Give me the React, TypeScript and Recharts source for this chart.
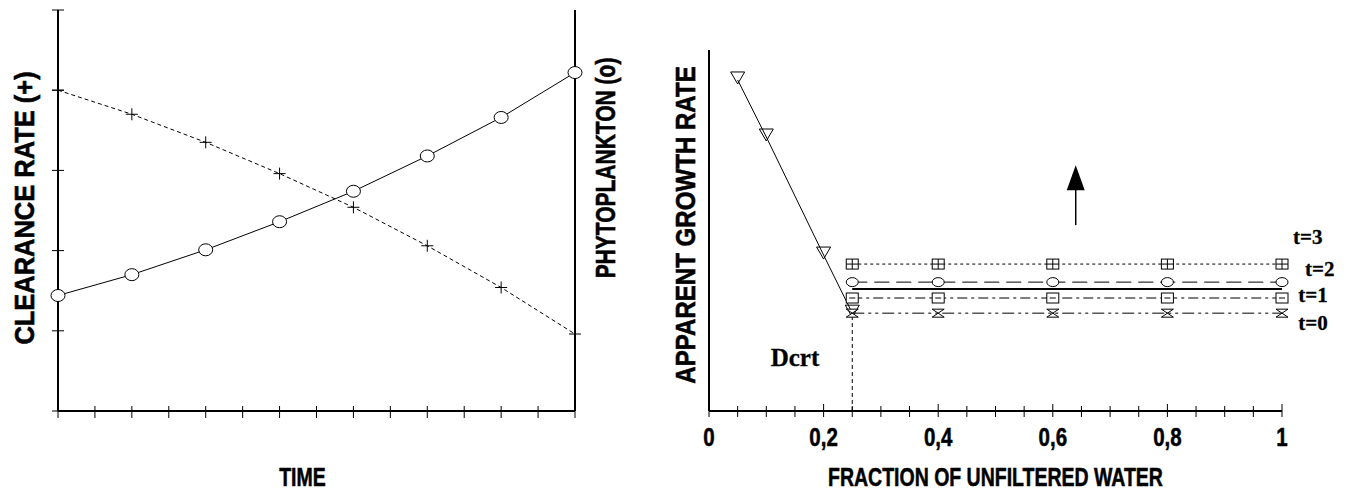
import React from "react";
import { LineChart, Line, XAxis, YAxis, ReferenceLine, ReferenceDot } from "recharts";

// left panel: clearance rate and phytoplankton over time
const timeSteps = [0, 2, 4, 6, 8, 10, 12, 14];
const clearanceRate = [4.0, 3.7, 3.35, 2.96, 2.54, 2.06, 1.54, 0.96];
const phytoplankton = [1.44, 1.7, 2.01, 2.36, 2.74, 3.18, 3.66, 4.22];
const timeTicks = [0, 1, 2, 3, 4, 5, 6, 7, 8, 9, 10, 11, 12, 13, 14];
const leftTicks = [0, 1, 2, 3, 4, 5];

// right panel: apparent growth rate vs fraction of unfiltered water
const fractionTicks = [
  0, 0.05, 0.1, 0.15, 0.2, 0.25, 0.3, 0.35, 0.4, 0.45, 0.5, 0.55, 0.6, 0.65, 0.7,
  0.75, 0.8, 0.85, 0.9, 0.95, 1,
];
const fractionLabels = [0, 0.2, 0.4, 0.6, 0.8, 1];
const dropFraction = [0.05, 0.1, 0.2, 0.25];
const dropRate = [9.17, 7.59, 4.32, 2.71];
const plateauFraction = [0.25, 0.4, 0.6, 0.8, 1];
const rateT3 = [4.07, 4.07, 4.07, 4.07, 4.07];
const rateT2 = [3.57, 3.57, 3.57, 3.57, 3.57];
const rateT1 = [3.13, 3.13, 3.13, 3.13, 3.13];
const rateT0 = [2.71, 2.71, 2.71, 2.71, 2.71];
const steadyFraction = [0.25, 1];
const steadyRate = [3.38, 3.38];
const dcrt = 0.25;
const arrowFraction = 0.64;
const arrowRate = [5.15, 6.81];
const stepNames = ["t=3", "t=2", "t=1", "t=0"];

const ink = "#000";
const sans = "'Liberation Sans', Arial, sans-serif";
const serif = "'Liberation Serif', 'Times New Roman', serif";

const timeData = timeSteps.map((t, i) => ({
  t,
  clearance: clearanceRate[i],
  phyto: phytoplankton[i],
}));
const toPoints = (xs: number[], ys: number[]) => xs.map((x, i) => ({ x, y: ys[i] }));

// bold text squeezed horizontally (tall narrow lettering)
const Tall = ({ x, y, text, size, sx = 1, rotate = false, family = sans, heavy = 0 }: any) => (
  <text
    transform={`translate(${x} ${y})${rotate ? " rotate(-90)" : ""} scale(${sx} 1)`}
    textAnchor="middle" dominantBaseline="central"
    fontFamily={family} fontWeight="bold" fontSize={size} fill={ink}
    stroke={heavy ? ink : "none"} strokeWidth={heavy}>
    {text}
  </text>
);

// ---- marker shapes ----
const Plus = ({ cx, cy }: any) => (
  <g stroke={ink} strokeWidth={1}>
    <line x1={cx - 6} x2={cx + 6} y1={cy} y2={cy} />
    <line x1={cx} x2={cx} y1={cy - 6} y2={cy + 6} />
  </g>
);
const Ring = ({ cx, cy, rx = 7, ry = 6 }: any) => (
  <ellipse cx={cx} cy={cy} rx={rx} ry={ry} fill="#fff" stroke={ink} strokeWidth={1} />
);
const TriDown = ({ cx, cy }: any) => (
  <path d={`M${cx - 7} ${cy - 8}H${cx + 7}L${cx} ${cy + 4}Z`} fill="none" stroke={ink} strokeWidth={1} />
);
const BoxCross = ({ cx, cy }: any) => (
  <g stroke={ink} strokeWidth={1} fill="#fff">
    <rect x={cx - 6} y={cy - 5} width={12} height={10} />
    <line x1={cx - 6} x2={cx + 6} y1={cy} y2={cy} />
    <line x1={cx} x2={cx} y1={cy - 5} y2={cy + 5} />
  </g>
);
const BoxBar = ({ cx, cy }: any) => (
  <g stroke={ink} strokeWidth={1} fill="#fff">
    <rect x={cx - 6} y={cy - 5} width={12} height={10} />
    <line x1={cx - 3} x2={cx + 3} y1={cy} y2={cy} />
  </g>
);
const Hourglass = ({ cx, cy }: any) => (
  <path d={`M${cx - 6} ${cy - 4}H${cx + 6}L${cx - 6} ${cy + 4}H${cx + 6}Z`} fill="#fff" stroke={ink} strokeWidth={1} />
);

const dotOf = (Shape: any, extra: any = {}) => (p: any) =>
  <Shape key={`dot-${p.index}`} cx={p.cx} cy={p.cy} {...extra} />;

// ---- axis ticks that cross the axis line ----
const CrossTickY = ({ x, y }: any) => (
  <line x1={x - 6} x2={x + 6} y1={y} y2={y} stroke={ink} strokeWidth={1} />
);
const CrossTickX = ({ x, y }: any) => (
  <line x1={x} x2={x} y1={y - 5} y2={y + 7} stroke={ink} strokeWidth={1} />
);
const FractionTick = ({ x, y, payload }: any) => {
  const v = payload.value;
  const major = fractionLabels.some((l) => Math.abs(l - v) < 1e-6);
  return (
    <g>
      <line x1={x} x2={x} y1={y - (major ? 7 : 5)} y2={y + 6} stroke={ink} strokeWidth={1} />
      {major && (
        <Tall x={x} y={y + 26} size={25} sx={0.82} heavy={0.5}
          text={String(Number(v.toFixed(1))).replace(".", ",")} />
      )}
    </g>
  );
};

// ---- axis titles ----
const vTitle = (text: string, dx: number, cy: number, sx: number) => ({ viewBox }: any) => (
  <Tall x={viewBox.x + dx} y={cy} text={text} size={28} sx={sx} rotate heavy={0.6} />
);
const hTitle = (text: string, dx: number) => ({ viewBox }: any) => (
  <Tall x={viewBox.x + viewBox.width / 2 + dx} y={viewBox.y + 67} text={text} size={25} sx={0.78} heavy={0.5} />
);

const Arrow = ({ x1, y1, x2, y2 }: any) => (
  <g>
    <line x1={x1} x2={x2} y1={y1} y2={y2 + 20} stroke={ink} strokeWidth={1.5} />
    <path d={`M${x2} ${y2}L${x2 - 9} ${y2 + 25}H${x2 + 9}Z`} fill={ink} />
  </g>
);

const textShape = (text: string, size: number) => (p: any) => (
  <Tall x={p.cx} y={p.cy} text={text} size={size} family={serif} heavy={0.3} />
);

function TimePanel() {
  return (
    <LineChart width={640} height={494} data={timeData} margin={{ top: 10, right: 0, bottom: 0, left: 0 }}>
      <XAxis dataKey="t" type="number" domain={[0, 14]} ticks={timeTicks} interval={0}
        height={83} tickSize={0} tickMargin={0} tickLine={false} tick={<CrossTickX />}
        axisLine={{ stroke: ink, strokeWidth: 2 }} label={hTitle("TIME", -14)} />
      <YAxis yAxisId="l" domain={[0, 5]} ticks={leftTicks} width={58} tickSize={0} tickMargin={0}
        tickLine={false} tick={<CrossTickY />} axisLine={{ stroke: ink, strokeWidth: 2 }}
        label={vTitle("CLEARANCE RATE (+)", 25, 208, 0.91)} />
      <YAxis yAxisId="r" orientation="right" domain={[0, 5]} width={65} tick={false} tickLine={false}
        axisLine={{ stroke: ink, strokeWidth: 2 }} label={vTitle("PHYTOPLANKTON (o)", 30, 168, 0.75)} />
      <Line yAxisId="l" dataKey="clearance" stroke={ink} strokeWidth={1} strokeDasharray="4 3"
        dot={dotOf(Plus)} isAnimationActive={false} />
      <Line yAxisId="r" dataKey="phyto" stroke={ink} strokeWidth={1}
        dot={dotOf(Ring)} isAnimationActive={false} />
    </LineChart>
  );
}

function GrowthPanel() {
  const labelSpots = [
    { x: 1.045, y: 4.82 },
    { x: 1.066, y: 3.93 },
    { x: 1.054, y: 3.21 },
    { x: 1.054, y: 2.44 },
  ];
  return (
    <LineChart width={706} height={494} margin={{ top: 50, right: 64, bottom: 0, left: 0 }}>
      <XAxis dataKey="x" type="number" domain={[0, 1]} ticks={fractionTicks} interval={0}
        height={83} tickSize={0} tickMargin={0} tickLine={false} tick={<FractionTick />}
        axisLine={{ stroke: ink, strokeWidth: 2 }} label={hTitle("FRACTION OF UNFILTERED WATER", 0)} />
      <YAxis dataKey="y" type="number" domain={[0, 10]} width={69} tick={false} tickLine={false}
        axisLine={{ stroke: ink, strokeWidth: 2 }} label={vTitle("APPARENT GROWTH RATE", 45, 225, 0.86)} />
      <ReferenceLine segment={[{ x: dcrt, y: 0 }, { x: dcrt, y: rateT0[0] }]} stroke={ink}
        strokeWidth={1} strokeDasharray="4 3" />
      <Line data={toPoints(dropFraction, dropRate)} dataKey="y" stroke={ink} strokeWidth={1}
        dot={dotOf(TriDown)} isAnimationActive={false} />
      <Line data={toPoints(plateauFraction, rateT3)} dataKey="y" stroke={ink} strokeWidth={1}
        strokeDasharray="3 3" dot={dotOf(BoxCross)} isAnimationActive={false} />
      <Line data={toPoints(plateauFraction, rateT2)} dataKey="y" stroke={ink} strokeWidth={1}
        strokeDasharray="15 7" dot={dotOf(Ring, { rx: 6, ry: 4.5 })} isAnimationActive={false} />
      <Line data={toPoints(steadyFraction, steadyRate)} dataKey="y" stroke={ink} strokeWidth={2}
        dot={false} isAnimationActive={false} />
      <Line data={toPoints(plateauFraction, rateT1)} dataKey="y" stroke={ink} strokeWidth={1}
        strokeDasharray="10 4 3 4" dot={dotOf(BoxBar)} isAnimationActive={false} />
      <Line data={toPoints(plateauFraction, rateT0)} dataKey="y" stroke={ink} strokeWidth={1}
        strokeDasharray="12 4 3 4 3 4" dot={dotOf(Hourglass)} isAnimationActive={false} />
      <ReferenceLine segment={[{ x: arrowFraction, y: arrowRate[0] }, { x: arrowFraction, y: arrowRate[1] }]}
        shape={Arrow} ifOverflow="visible" />
      <ReferenceDot x={0.15} y={1.47} r={0} ifOverflow="visible" shape={textShape("Dcrt", 25)} />
      {stepNames.map((name, i) => (
        <ReferenceDot key={name} x={labelSpots[i].x} y={labelSpots[i].y} r={0} ifOverflow="visible"
          shape={textShape(name, 21)} />
      ))}
    </LineChart>
  );
}

export default function App() {
  return (
    <div style={{ position: "fixed", left: 0, top: 0, width: 1346, height: 494, background: "#fff" }}>
      <div style={{ position: "absolute", left: 0, top: 0 }}>
        <TimePanel />
      </div>
      <div style={{ position: "absolute", left: 640, top: 0 }}>
        <GrowthPanel />
      </div>
    </div>
  );
}
